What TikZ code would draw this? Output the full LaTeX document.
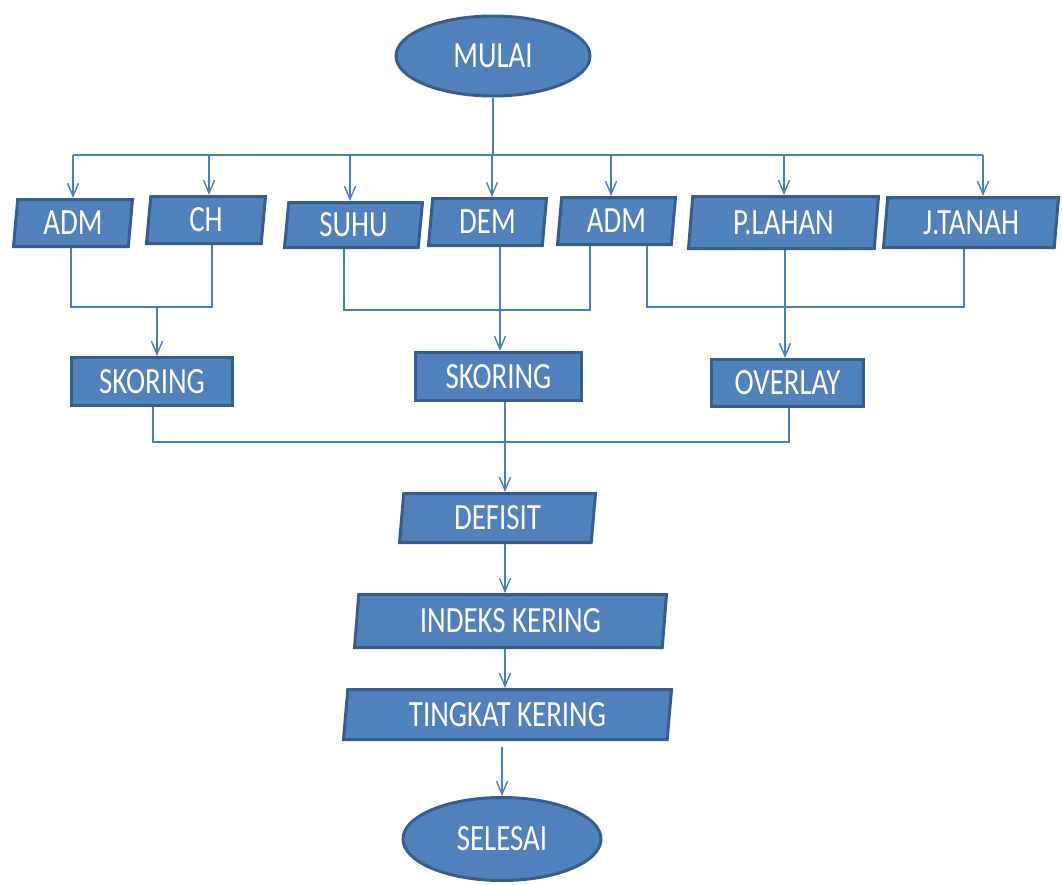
\documentclass[tikz,border=0pt]{standalone}
\usepackage{fontspec}
\setmainfont{Carlito}[FakeStretch=0.78]
\usetikzlibrary{shapes.geometric,arrows.meta}
\definecolor{boxfill}{HTML}{4F81BD}
\definecolor{boxline}{HTML}{385D8A}
\definecolor{conn}{HTML}{4A7EBB}
\begin{document}
\begin{tikzpicture}[x=1pt,y=-1pt,
  base/.style={fill=boxfill,draw=boxline,line width=3pt,text=white,inner sep=0pt,font=\fontsize{37}{40}\selectfont},
  term/.style={base,ellipse},
  io/.style={base,trapezium,trapezium left angle=80,trapezium right angle=100,trapezium stretches body=true},
  proc/.style={base,rectangle},
  wire/.style={draw=conn,line width=1.4pt},
  arr/.style={wire,-{Straight Barb[length=13pt,width=11pt]}}]
\useasboundingbox (0,0) rectangle (1062,884);

% nodes
\node[term,minimum width=194pt,minimum height=80pt] (mulai) at (493,56) {MULAI};
\node[io,minimum width=119pt,minimum height=47pt] (adm1) at (73,223) {ADM};
\node[io,minimum width=119pt,minimum height=47pt] (ch) at (206,220) {CH};
\node[io,minimum width=138pt,minimum height=45pt] (suhu) at (353.5,225) {SUHU};
\node[io,minimum width=118pt,minimum height=47pt] (dem) at (487.5,222) {DEM};
\node[io,minimum width=118pt,minimum height=47pt] (adm2) at (616.5,221) {ADM};
\node[io,minimum width=190pt,minimum height=52pt] (plahan) at (783.5,222.5) {P.LAHAN};
\node[io,minimum width=175pt,minimum height=50pt] (jtanah) at (971,222.5) {J.TANAH};
\node[proc,minimum width=161pt,minimum height=48pt] (sk1) at (152,381.5) {SKORING};
\node[proc,minimum width=166pt,minimum height=48pt] (sk2) at (498.5,376.5) {SKORING};
\node[proc,minimum width=152pt,minimum height=47pt] (overlay) at (787.5,383) {OVERLAY};
\node[io,minimum width=196pt,minimum height=49pt] (defisit) at (497.5,518) {DEFISIT};
\node[io,minimum width=312pt,minimum height=53pt] (indeks) at (510.5,621) {INDEKS KERING};
\node[io,minimum width=328pt,minimum height=50pt] (tingkat) at (507.5,714.5) {TINGKAT KERING};
\node[term,minimum width=198pt,minimum height=83pt] (selesai) at (502,839) {SELESAI};

% top bus
\coordinate (b1) at (73,155);
\coordinate (b2) at (209,155);
\coordinate (b3) at (350,155);
\coordinate (b4) at (492,155);
\coordinate (b5) at (611,155);
\coordinate (b6) at (784,155);
\coordinate (b7) at (983,155);
\draw[wire] (mulai.south) -- (mulai.south |- b1);
\draw[wire] (b1) -- (b7);
\draw[arr] (b1) -- (b1 |- adm1.north);
\draw[arr] (b2) -- (b2 |- ch.north);
\draw[arr] (b3) -- (b3 |- suhu.north);
\draw[arr] (b4) -- (b4 |- dem.north);
\draw[arr] (b5) -- (b5 |- adm2.north);
\draw[arr] (b6) -- (b6 |- plahan.north);
\draw[arr] (b7) -- (b7 |- jtanah.north);

% ADM + CH -> SKORING
\coordinate (j1) at (71,307);
\coordinate (j2) at (212,307);
\coordinate (j3) at (157,307);
\draw[wire] (j1 |- adm1.south) -- (j1) -- (j2) -- (j2 |- ch.south);
\draw[arr] (j3) -- (j3 |- sk1.north);

% SUHU + DEM + ADM -> SKORING
\coordinate (j4) at (344,310);
\coordinate (j5) at (590,310);
\draw[wire] (j4 |- suhu.south) -- (j4) -- (j5) -- (j5 |- adm2.south);
\coordinate (d1) at (500,300);
\draw[arr] (d1 |- dem.south) -- (d1 |- sk2.north);

% ADM + P.LAHAN + J.TANAH -> OVERLAY
\coordinate (j6) at (647,307);
\coordinate (j7) at (964,307);
\draw[wire] (j6 |- adm2.south) -- (j6) -- (j7) -- (j7 |- jtanah.south);
\coordinate (p1) at (785,300);
\draw[arr] (p1 |- plahan.south) -- (p1 |- overlay.north);

% middle bus -> DEFISIT
\coordinate (k1) at (153,442);
\coordinate (k2) at (789,442);
\coordinate (k3) at (505,442);
\draw[wire] (k1 |- sk1.south) -- (k1) -- (k2) -- (k2 |- overlay.south);
\draw[arr] (k3 |- sk2.south) -- (k3 |- defisit.north);

% chain
\draw[arr] (k3 |- defisit.south) -- (k3 |- indeks.north);
\draw[arr] (k3 |- indeks.south) -- (k3 |- tingkat.north);
\coordinate (t1) at (502,747);
\draw[arr] (t1) -- (t1 |- selesai.north);
\end{tikzpicture}
\end{document}
